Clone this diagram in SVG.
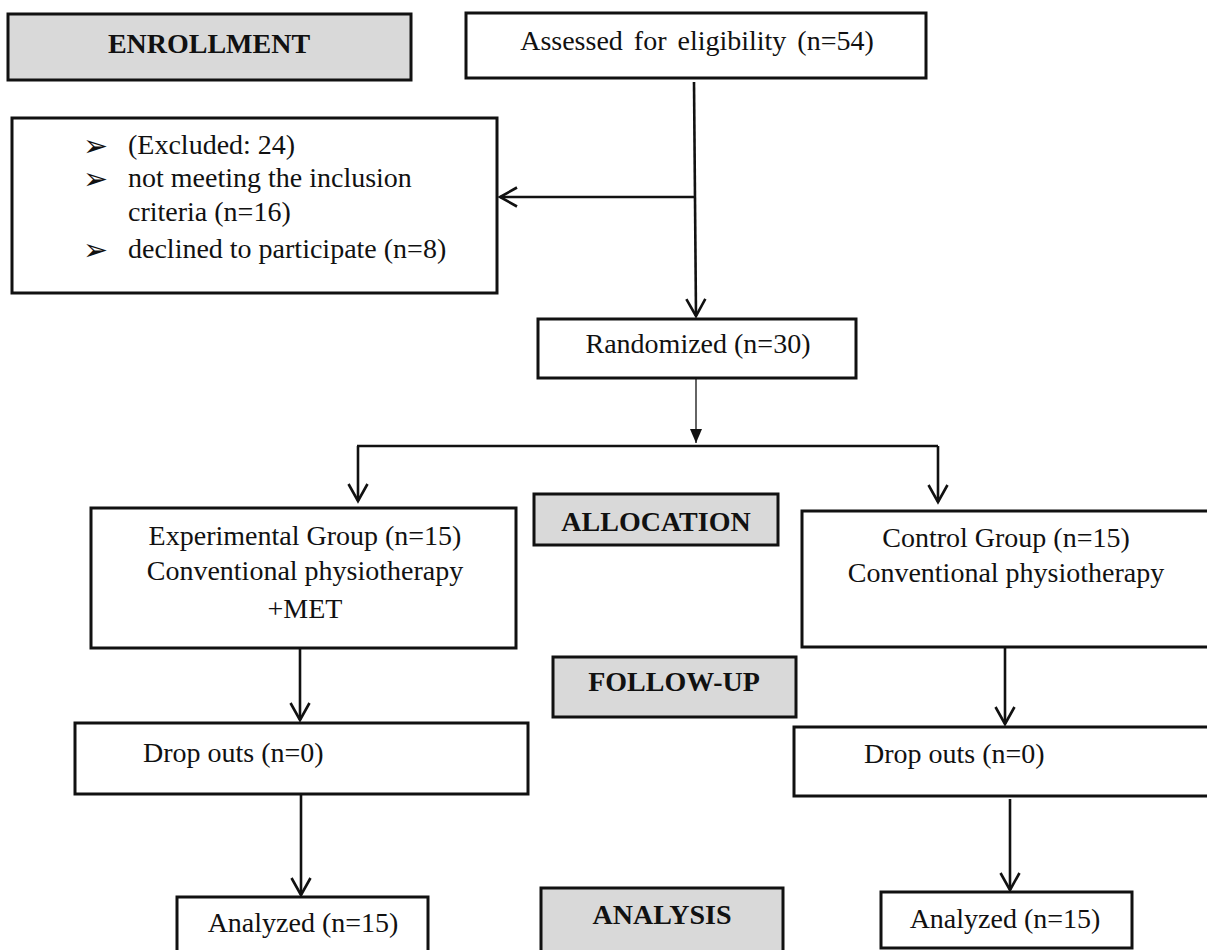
<svg xmlns="http://www.w3.org/2000/svg" width="1207" height="950" viewBox="0 0 1207 950">
<style>
.box{fill:#fff;stroke:#111;stroke-width:3}
.hdr{fill:#d9d9d9;stroke:#111;stroke-width:3}
.t{font-family:"Liberation Serif","Times New Roman",serif;font-size:28px;fill:#111}
.b{font-family:"Liberation Serif","Times New Roman",serif;font-size:28px;font-weight:bold;fill:#111}
.bul{font-family:"DejaVu Sans",sans-serif;font-size:30px;fill:#111}
.c{fill:none;stroke:#111;stroke-width:2.6}
.thin{fill:none;stroke:#111;stroke-width:1.3}
</style>
<defs>
<marker id="open" markerUnits="userSpaceOnUse" markerWidth="30" markerHeight="30" viewBox="-22 -15 30 30" refX="0" refY="0" orient="auto" overflow="visible">
<path d="M-17,-9.5 L0,0 L-17,9.5" fill="none" stroke="#111" stroke-width="2.6"/>
</marker>
<marker id="fill" markerUnits="userSpaceOnUse" markerWidth="20" markerHeight="20" viewBox="-16 -8 20 16" refX="0" refY="0" orient="auto" overflow="visible">
<path d="M-14,-6 L0,0 L-14,6 Z" fill="#111"/>
</marker>
</defs>
<rect width="1207" height="950" fill="#fff"/>

<g id="connectors">
<path class="c" d="M694,82 L696,316" marker-end="url(#open)"/>
<path class="c" d="M694,197 L500,197" marker-end="url(#open)"/>
<path class="thin" d="M696,379 L696,443" marker-end="url(#fill)"/>
<path class="c" d="M357,446 L938,446"/>
<path class="c" d="M358,446 L358,501" marker-end="url(#open)"/>
<path class="c" d="M938,446 L938,502" marker-end="url(#open)"/>
<path class="c" d="M300,649 L300,720" marker-end="url(#open)"/>
<path class="c" d="M301,795 L301,895" marker-end="url(#open)"/>
<path class="c" d="M1005,648 L1005,724" marker-end="url(#open)"/>
<path class="c" d="M1010,799 L1010,890" marker-end="url(#open)"/>
</g>

<g id="enrollment">
<rect class="hdr" x="8" y="14" width="403" height="66"/>
<text class="b" x="209" y="53" text-anchor="middle">ENROLLMENT</text>
</g>
<g id="assessed">
<rect class="box" x="466" y="13" width="460" height="65"/>
<text class="t" x="697" y="50" text-anchor="middle" word-spacing="4">Assessed for eligibility (n=54)</text>
</g>
<g id="excluded">
<rect class="box" x="12" y="118" width="485" height="175"/>
<text class="bul" x="83" y="156">➢</text>
<text class="t" x="128" y="154">(Excluded: 24)</text>
<text class="bul" x="83" y="189">➢</text>
<text class="t" x="128" y="187">not meeting the inclusion</text>
<text class="t" x="128" y="221">criteria (n=16)</text>
<text class="bul" x="83" y="260">➢</text>
<text class="t" x="128" y="258">declined to participate (n=8)</text>
</g>
<g id="randomized">
<rect class="box" x="538" y="319" width="318" height="59"/>
<text class="t" x="698" y="353" text-anchor="middle">Randomized (n=30)</text>
</g>
<g id="allocation">
<rect class="hdr" x="534" y="494" width="244" height="51"/>
<text class="b" x="656" y="531" text-anchor="middle">ALLOCATION</text>
</g>
<g id="experimental">
<rect class="box" x="91" y="508" width="425" height="140"/>
<text class="t" x="305" y="545" text-anchor="middle">Experimental Group (n=15)</text>
<text class="t" x="305" y="580" text-anchor="middle">Conventional physiotherapy</text>
<text class="t" x="305" y="618" text-anchor="middle">+MET</text>
</g>
<g id="control">
<rect class="box" x="802" y="511" width="420" height="136"/>
<text class="t" x="1006" y="547" text-anchor="middle">Control Group (n=15)</text>
<text class="t" x="1006" y="582" text-anchor="middle">Conventional physiotherapy</text>
</g>
<g id="followup">
<rect class="hdr" x="553" y="657" width="243" height="60"/>
<text class="b" x="674" y="691" text-anchor="middle">FOLLOW-UP</text>
</g>
<g id="dropleft">
<rect class="box" x="75" y="723" width="453" height="71"/>
<text class="t" x="143" y="762">Drop outs (n=0)</text>
</g>
<g id="dropright">
<rect class="box" x="794" y="727" width="428" height="69"/>
<text class="t" x="864" y="763">Drop outs (n=0)</text>
</g>
<g id="analysis">
<rect class="hdr" x="541" y="888" width="242" height="80"/>
<text class="b" x="662" y="924" text-anchor="middle">ANALYSIS</text>
</g>
<g id="analyzedleft">
<rect class="box" x="177" y="897" width="251" height="70"/>
<text class="t" x="303" y="932" text-anchor="middle">Analyzed (n=15)</text>
</g>
<g id="analyzedright">
<rect class="box" x="881" y="892" width="251" height="56"/>
<text class="t" x="1005" y="928" text-anchor="middle">Analyzed (n=15)</text>
</g>
</svg>
